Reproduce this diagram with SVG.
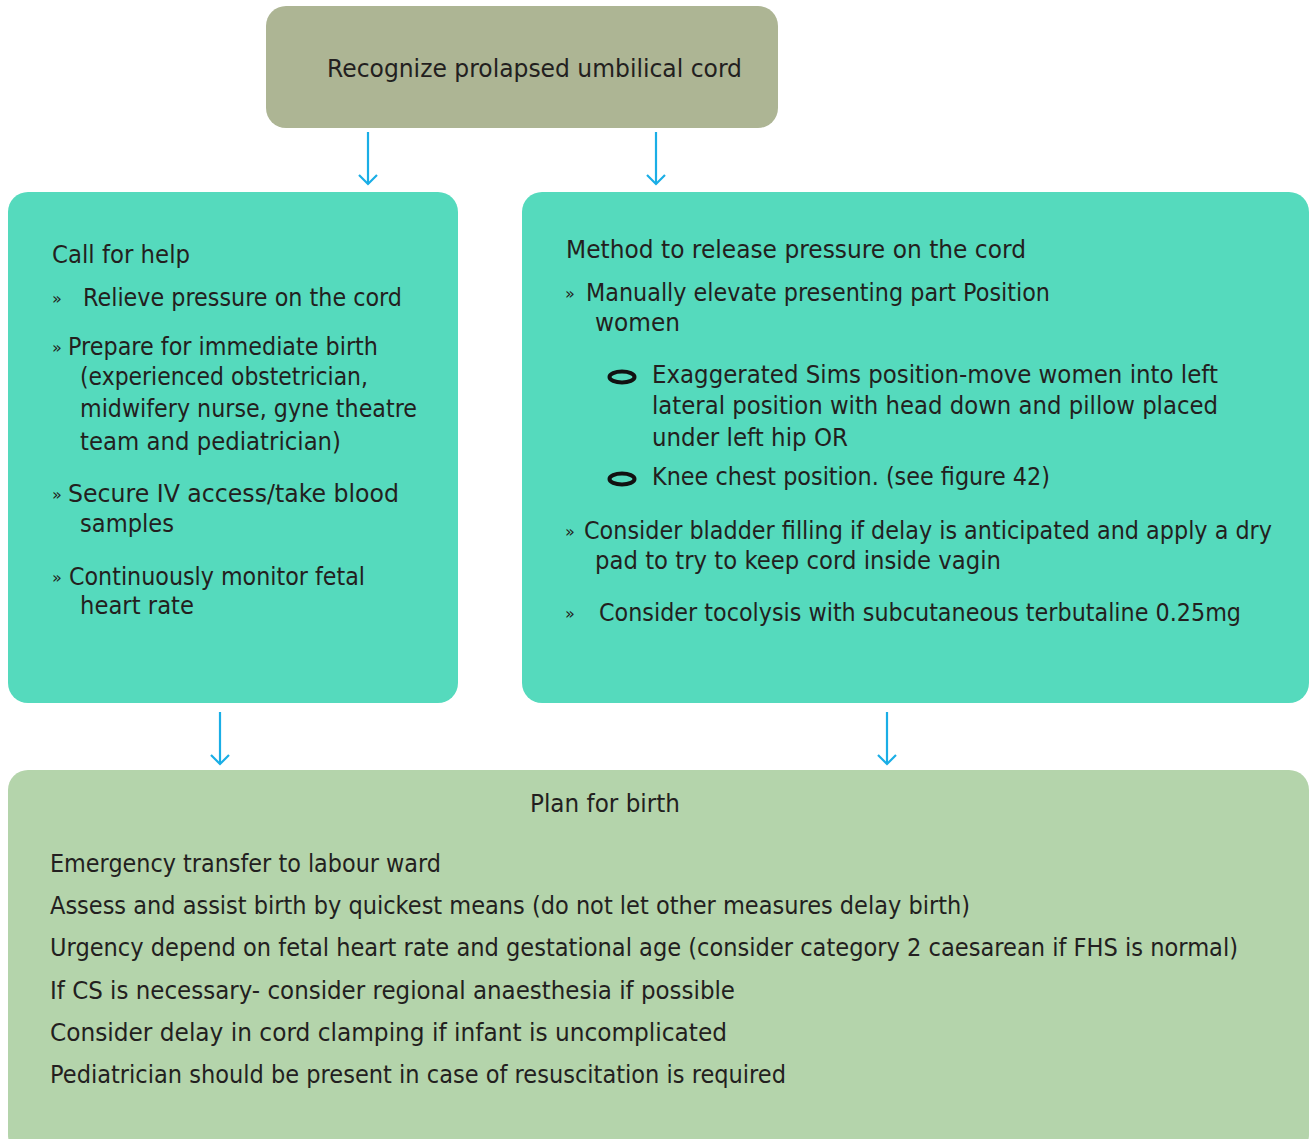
<svg xmlns="http://www.w3.org/2000/svg" width="1310" height="1139" viewBox="0 0 1310 1139">
<style>
text{font-family:"DejaVu Sans","Liberation Sans",sans-serif;fill:#231f20;font-size:25px}
.b{font-size:16px}
.c{stroke:#1aaee6;stroke-width:2.2;fill:none}
.ring{fill:none;stroke:#111;stroke-width:4}
</style>
<defs>
<marker id="ah" markerWidth="20" markerHeight="20" refX="10" refY="10" markerUnits="userSpaceOnUse" orient="auto">
<path d="M1,1 L10,10 L1,19" fill="none" stroke="#1aaee6" stroke-width="2.2"/>
</marker>
</defs>
<rect width="1310" height="1139" fill="#ffffff"/>
<g id="top">
<rect x="266" y="6" width="512" height="122" rx="20" fill="#adb594"/>
<text x="327" y="77" textLength="415" lengthAdjust="spacingAndGlyphs">Recognize prolapsed umbilical cord</text>
</g>
<g id="left">
<rect x="8" y="192" width="450" height="511" rx="20" fill="#55dabd"/>
<text x="52" y="263" textLength="138" lengthAdjust="spacingAndGlyphs">Call for help</text>
<text class="b" x="52" y="304">»</text>
<text x="83" y="306" textLength="319" lengthAdjust="spacingAndGlyphs">Relieve pressure on the cord</text>
<text class="b" x="52" y="353">»</text>
<text x="68" y="355" textLength="310" lengthAdjust="spacingAndGlyphs">Prepare for immediate birth</text>
<text x="80" y="385" textLength="288" lengthAdjust="spacingAndGlyphs">(experienced obstetrician,</text>
<text x="80" y="417" textLength="337" lengthAdjust="spacingAndGlyphs">midwifery nurse, gyne theatre</text>
<text x="80" y="450" textLength="261" lengthAdjust="spacingAndGlyphs">team and pediatrician)</text>
<text class="b" x="52" y="500">»</text>
<text x="68" y="502" textLength="331" lengthAdjust="spacingAndGlyphs">Secure IV access/take blood</text>
<text x="80" y="532" textLength="94" lengthAdjust="spacingAndGlyphs">samples</text>
<text class="b" x="52" y="583">»</text>
<text x="69" y="585" textLength="296" lengthAdjust="spacingAndGlyphs">Continuously monitor fetal</text>
<text x="80" y="614" textLength="114" lengthAdjust="spacingAndGlyphs">heart rate</text>
</g>
<g id="right">
<rect x="522" y="192" width="787" height="511" rx="20" fill="#55dabd"/>
<text x="566" y="258" textLength="460" lengthAdjust="spacingAndGlyphs">Method to release pressure on the cord</text>
<text class="b" x="565" y="299">»</text>
<text x="586" y="301" textLength="464" lengthAdjust="spacingAndGlyphs">Manually elevate presenting part Position</text>
<text x="595" y="331" textLength="85" lengthAdjust="spacingAndGlyphs">women</text>
<ellipse class="ring" cx="622" cy="377" rx="12.5" ry="5.5"/>
<text x="652" y="383" textLength="566" lengthAdjust="spacingAndGlyphs">Exaggerated Sims position-move women into left</text>
<text x="652" y="414" textLength="566" lengthAdjust="spacingAndGlyphs">lateral position with head down and pillow placed</text>
<text x="652" y="446" textLength="196" lengthAdjust="spacingAndGlyphs">under left hip OR</text>
<ellipse class="ring" cx="622" cy="479" rx="12.5" ry="5.5"/>
<text x="652" y="485" textLength="398" lengthAdjust="spacingAndGlyphs">Knee chest position. (see figure 42)</text>
<text class="b" x="565" y="537">»</text>
<text x="584" y="539" textLength="688" lengthAdjust="spacingAndGlyphs">Consider bladder filling if delay is anticipated and apply a dry</text>
<text x="595" y="569" textLength="406" lengthAdjust="spacingAndGlyphs">pad to try to keep cord inside vagin</text>
<text class="b" x="565" y="619">»</text>
<text x="599" y="621" textLength="642" lengthAdjust="spacingAndGlyphs">Consider tocolysis with subcutaneous terbutaline 0.25mg</text>
</g>
<g id="bottom">
<rect x="8" y="770" width="1301" height="385" rx="20" fill="#b4d4ab"/>
<text x="530" y="812" textLength="150" lengthAdjust="spacingAndGlyphs">Plan for birth</text>
<text x="50" y="872" textLength="391" lengthAdjust="spacingAndGlyphs">Emergency transfer to labour ward</text>
<text x="50" y="914" textLength="920" lengthAdjust="spacingAndGlyphs">Assess and assist birth by quickest means (do not let other measures delay birth)</text>
<text x="50" y="956" textLength="1188" lengthAdjust="spacingAndGlyphs">Urgency depend on fetal heart rate and gestational age (consider category 2 caesarean if FHS is normal)</text>
<text x="50" y="999" textLength="685" lengthAdjust="spacingAndGlyphs">If CS is necessary- consider regional anaesthesia if possible</text>
<text x="50" y="1041" textLength="677" lengthAdjust="spacingAndGlyphs">Consider delay in cord clamping if infant is uncomplicated</text>
<text x="50" y="1083" textLength="736" lengthAdjust="spacingAndGlyphs">Pediatrician should be present in case of resuscitation is required</text>
</g>
<g id="connectors">
<line class="c" x1="368" y1="132" x2="368" y2="184" marker-end="url(#ah)"/>
<line class="c" x1="656" y1="132" x2="656" y2="184" marker-end="url(#ah)"/>
<line class="c" x1="220" y1="712" x2="220" y2="764" marker-end="url(#ah)"/>
<line class="c" x1="887" y1="712" x2="887" y2="764" marker-end="url(#ah)"/>
</g>
</svg>
